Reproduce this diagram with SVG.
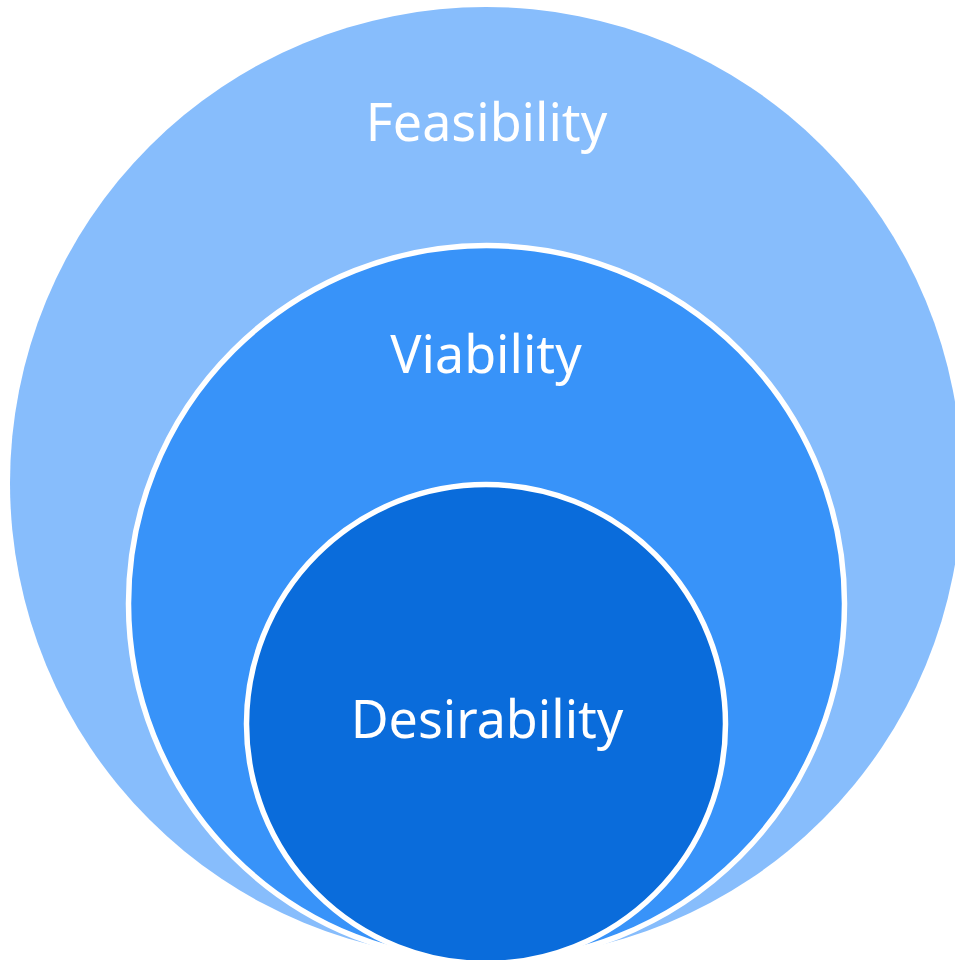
<svg xmlns="http://www.w3.org/2000/svg" width="955" height="960" viewBox="0 0 955 960">
<style>
.lbl{font-family:"Noto Sans","DejaVu Sans",sans-serif;font-size:52px;fill:#ffffff;text-anchor:middle}
.ring{stroke:#ffffff;stroke-width:5.5}
</style>
<rect width="955" height="960" fill="#ffffff"/>
<g id="feasibility">
<circle cx="486" cy="483" r="476" fill="#87BDFC"/>
<text class="lbl" x="486.5" y="141">Feasibility</text>
</g>
<g id="viability">
<circle class="ring" cx="486.5" cy="603.5" r="358" fill="#3893F9"/>
<text class="lbl" x="486" y="373">Viability</text>
</g>
<g id="desirability">
<circle class="ring" cx="486" cy="724" r="239.5" fill="#0A6CDB"/>
<text class="lbl" x="487" y="738">Desirability</text>
</g>
<g id="connectors"/>
</svg>
